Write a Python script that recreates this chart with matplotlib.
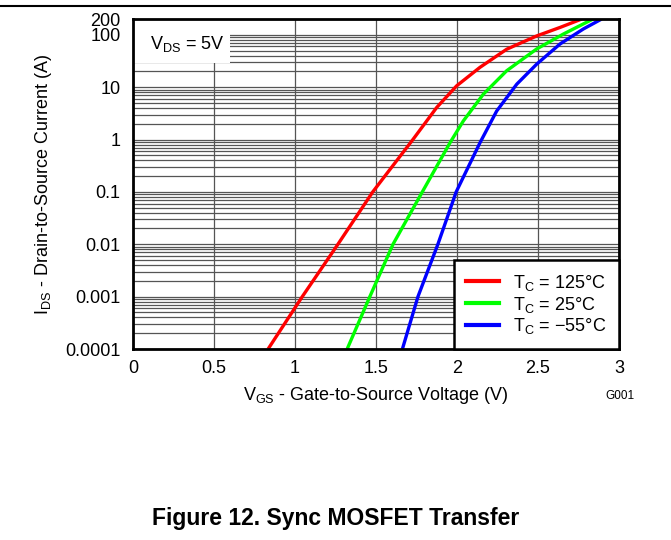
import matplotlib
matplotlib.use("Agg")
import matplotlib.pyplot as plt
from matplotlib.patches import Rectangle
from matplotlib.lines import Line2D
from matplotlib.ticker import FixedLocator, NullFormatter

plt.rcParams['font.family'] = ['Liberation Sans', 'DejaVu Sans']
plt.rcParams['mathtext.fontset'] = 'custom'
plt.rcParams['mathtext.rm'] = 'Liberation Sans'
plt.rcParams['mathtext.it'] = 'Liberation Sans'

# ---- data ----
red_v = [0.834, 1.045, 1.265, 1.48, 1.728, 1.875, 1.998, 2.142, 2.307, 2.492, 2.636, 2.77]
red_i = [1e-4, 1e-3, 1e-2, 0.1, 1.0, 4.1, 10.6, 23.9, 53, 95, 138, 200]
green_v = [1.322, 1.462, 1.605, 1.786, 1.957, 2.039, 2.162, 2.307, 2.492, 2.656, 2.78, 2.84]
green_i = [1e-4, 1e-3, 1e-2, 0.1, 0.87, 2.26, 7.3, 20.6, 53.6, 103, 161, 200]
blue_v = [1.663, 1.759, 1.882, 1.995, 2.142, 2.245, 2.369, 2.492, 2.636, 2.78, 2.893]
blue_i = [1e-4, 1e-3, 1e-2, 0.1, 0.87, 3.5, 11.4, 27.5, 66.7, 129, 200]
labels = [r'T$_\mathrm{C}$ = 125°C', r'T$_\mathrm{C}$ = 25°C', r'T$_\mathrm{C}$ = −55°C']
colors = ['#ff0000', '#00ff00', '#0000ff']
x_ticks = [0, 0.5, 1, 1.5, 2, 2.5, 3]
x_ticklabels = ['0', '0.5', '1', '1.5', '2', '2.5', '3']
y_ticks = [1e-4, 1e-3, 1e-2, 0.1, 1, 10, 100, 200]
y_ticklabels = ['0.0001', '0.001', '0.01', '0.1', '1', '10', '100', '200']

fig = plt.figure(figsize=(6.71, 5.4), dpi=100)
ax = fig.add_axes([133/671, 1-349/540, (619-133)/671, (349-19)/540])
ax.set_yscale('log')
ax.set_xlim(0, 3)
ax.set_ylim(1e-4, 200)

ax.set_xticks(x_ticks, x_ticklabels)
ax.set_yticks(y_ticks, y_ticklabels)
minors = [m * 10.0**e for e in range(-4, 3) for m in range(2, 10) if m * 10.0**e < 200]
ax.yaxis.set_minor_locator(FixedLocator(minors))
ax.yaxis.set_minor_formatter(NullFormatter())
ax.tick_params(axis='both', which='both', length=0, labelsize=13)
ax.tick_params(axis='y', pad=9)
ax.tick_params(axis='x', pad=8)
ax.set_axisbelow(True)
ax.grid(True, which='both', axis='both', color='#555555', linewidth=0.9)

for s in ax.spines.values():
    s.set_linewidth(2.0)
    s.set_color('black')
    s.set_zorder(5)

# white box behind V_DS label
ax.add_patch(Rectangle((0, (349-63)/330), (230-133)/486, 1, transform=ax.transAxes,
                       facecolor='white', edgecolor='none', zorder=1.5))
ax.text(0.035, 0.925, r'V$_\mathrm{DS}$ = 5V', transform=ax.transAxes,
        fontsize=13, va='center', ha='left', zorder=2)

for v, i, c in zip([red_v, green_v, blue_v], [red_i, green_i, blue_i], colors):
    ax.plot(v, i, color=c, linewidth=2.4, zorder=3, solid_capstyle='butt',
            solid_joinstyle='round')

handles = [Line2D([], [], color=c, linewidth=3.0) for c in colors]
leg = ax.legend(handles, labels, loc='lower right', bbox_to_anchor=(1.0, 0.0),
                fontsize=13, frameon=True, fancybox=False, framealpha=1,
                edgecolor='black', borderaxespad=0, handlelength=1.8,
                handletextpad=0.8, labelspacing=0.1, borderpad=0.7)
leg.get_frame().set_linewidth(1.8)
leg.set_zorder(6)

ax.set_xlabel(r'V$_\mathrm{GS}$ - Gate-to-Source Voltage (V)', fontsize=13, labelpad=6)
ax.set_ylabel(r'I$_\mathrm{DS}$ - Drain-to-Source Current (A)', fontsize=13, labelpad=8)

fig.text(634/671, 1-396/540, 'G001', fontsize=8.5, ha='right', va='center')
fig.text(336/671, 1-518/540, 'Figure 12. Sync MOSFET Transfer', fontsize=16.5,
         fontweight='bold', ha='center', va='center')
fig.add_artist(Line2D([0, 1], [1-6/540, 1-6/540], color='black', linewidth=1.5,
                      transform=fig.transFigure))

fig.savefig('out.png', dpi=100)
